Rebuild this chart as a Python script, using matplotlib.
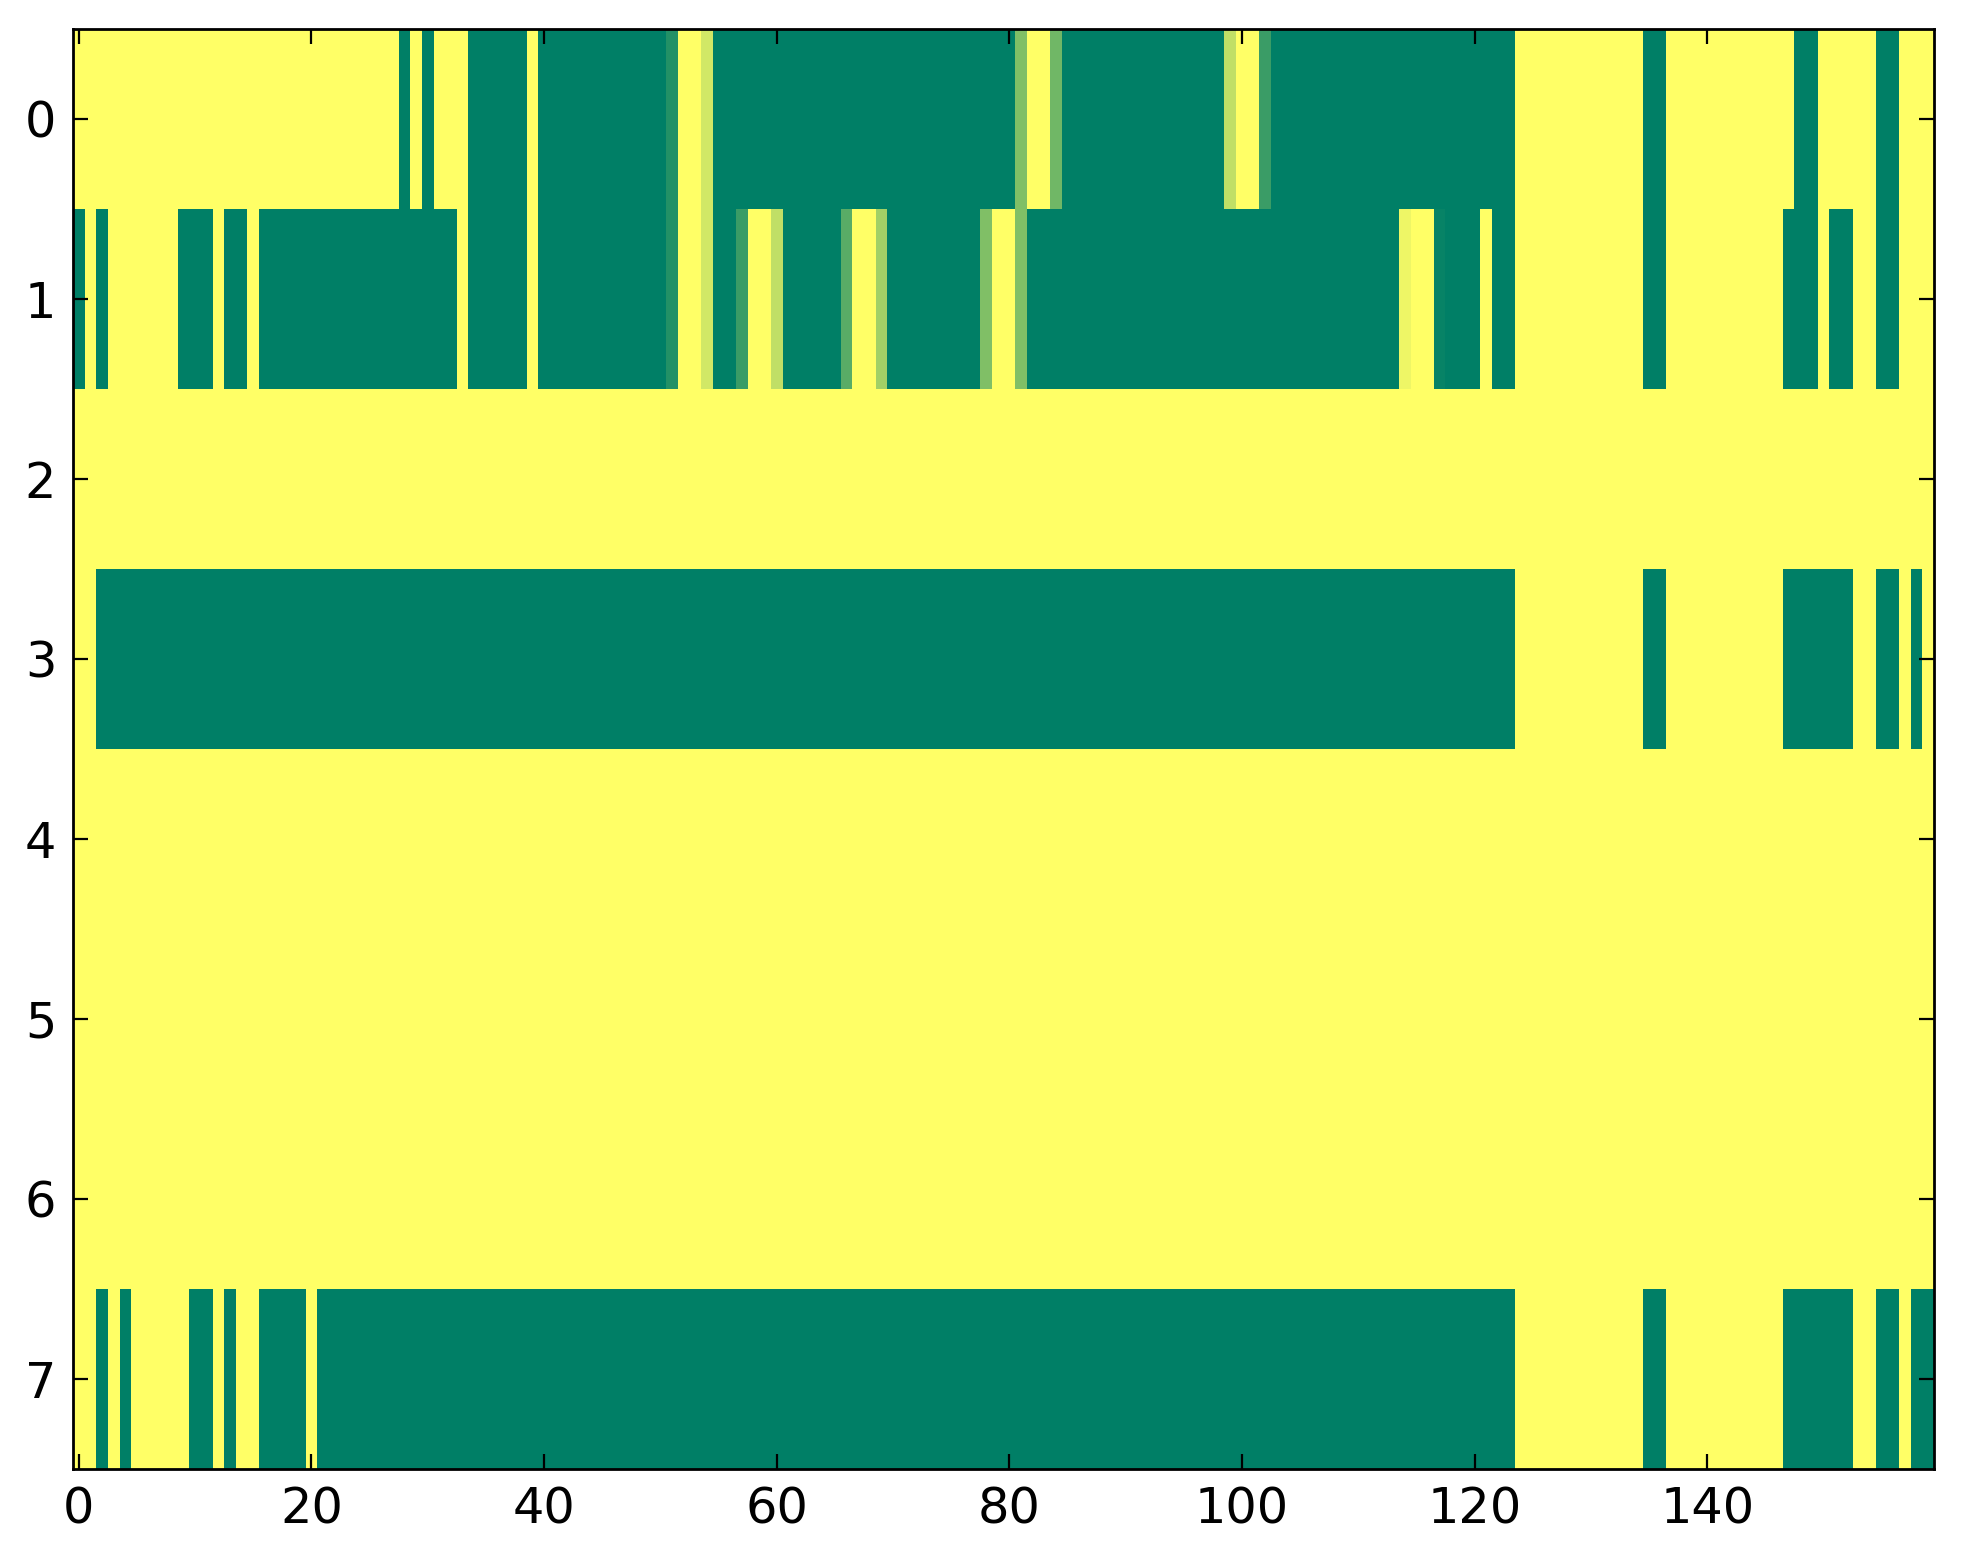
import numpy as np
import matplotlib
matplotlib.use("Agg")
import matplotlib.pyplot as plt

# Run-length encoded rows: (value, number of columns); 0 = green, 1 = yellow
row0 = [(1, 28), (0, 1), (1, 1), (0, 1), (1, 3), (0, 5), (1, 1), (0, 11), (0.14, 1), (1, 2), (0.82, 1),
        (0, 26), (0.5, 1), (1, 2), (0.44, 1), (0, 14), (0.75, 1), (1, 2), (0.23, 1), (0, 21),
        (1, 11), (0, 2), (1, 11), (0, 2), (1, 5), (0, 2), (1, 3)]
row1 = [(0, 1), (1, 1), (0, 1), (1, 6), (0, 3), (1, 1), (0, 2), (1, 1), (0, 17), (1, 1), (0, 5), (1, 1),
        (0, 11), (0.14, 1), (1, 2), (0.82, 1), (0, 2), (0.23, 1), (1, 2), (0.75, 1), (0, 5), (0.35, 1),
        (1, 2), (0.63, 1), (0, 8), (0.5, 1), (1, 2), (0.5, 1), (0, 32), (0.93, 1), (1, 2), (0.03, 1),
        (0, 3), (1, 1), (0, 2), (1, 11), (0, 2), (1, 10), (0, 3), (1, 1), (0, 2), (1, 2), (0, 2), (1, 3)]
row2 = [(1, 160)]
row3 = [(1, 2), (0, 122), (1, 11), (0, 2), (1, 10), (0, 6), (1, 2), (0, 2), (1, 1), (0, 1), (1, 1)]
row4 = [(1, 160)]
row5 = [(1, 160)]
row6 = [(1, 160)]
row7 = [(1, 2), (0, 1), (1, 1), (0, 1), (1, 5), (0, 2), (1, 1), (0, 1), (1, 2), (0, 4), (1, 1), (0, 103),
        (1, 11), (0, 2), (1, 10), (0, 6), (1, 2), (0, 2), (1, 1), (0, 2)]

rows = [row0, row1, row2, row3, row4, row5, row6, row7]


def expand(rle):
    out = []
    for v, n in rle:
        out.extend([v] * n)
    return out


data = np.array([expand(r) for r in rows], dtype=float)

fig = plt.figure(figsize=(1963 / 200, 1564 / 200), dpi=200)
ax = fig.add_axes([73 / 1963, 1 - 1469 / 1564, (1934 - 73) / 1963, (1469 - 29) / 1564])
ax.imshow(data, cmap="summer", vmin=0, vmax=1, interpolation="nearest", aspect="auto")

ax.set_xticks([0, 20, 40, 60, 80, 100, 120, 140])
ax.set_yticks(range(8))
ax.tick_params(direction="in", length=5.4, width=0.8, top=True, right=True,
               labelsize=17.8, pad=6)
for s in ax.spines.values():
    s.set_linewidth(1.0)

fig.savefig("out.png", dpi=200)
